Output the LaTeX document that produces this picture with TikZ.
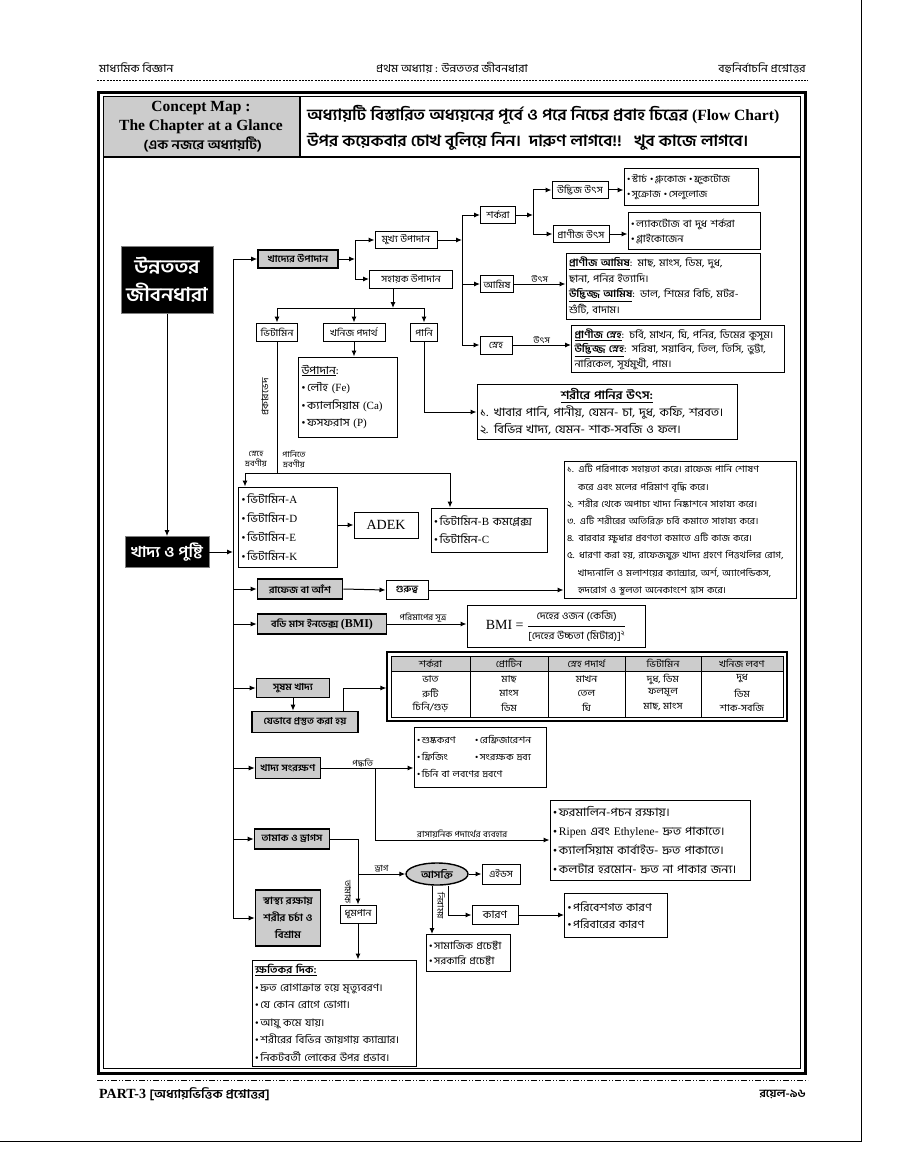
\documentclass[tikz,border=0pt]{standalone}
\usepackage{fontspec}
\setmainfont{Liberation Serif}
\newfontfamily\bn[Script=Bengali, FakeStretch=1.1]{Hind Siliguri}
\usetikzlibrary{arrows.meta,shapes.geometric}
\newcommand\en[1]{{\rmfamily #1}}
\newcommand\bu{{\rmfamily\textbullet}\,}
\newcommand\fs[2]{\fontsize{#1}{#2}\selectfont}
\begin{document}
\begin{tikzpicture}[x=1pt,y=-1pt,
  sz/.style 2 args={minimum width=#1pt, minimum height=#2pt},
  tw/.style={text width=#1pt, align=left},
  bx/.style={draw, line width=1pt, fill=white, inner sep=1pt, font=\bn\fs{9.5}{11}},
  tb/.style={draw, line width=1pt, fill=white, inner sep=3pt, font=\bn\fs{9.5}{14}},
  gb/.style={draw, line width=1.6pt, fill=gray!40, inner sep=1pt, font=\bn\fs{9.5}{11}\bfseries},
  blk/.style={draw=gray, line width=0.8pt, fill=black, text=white, inner sep=1pt},
  ln/.style={line width=1pt},
  arr/.style={line width=1pt, -{Latex[length=6pt,width=5pt]}},
  lbl/.style={font=\bn\fs{8.5}{10}, inner sep=1pt},
]
\useasboundingbox (0,0) rectangle (901,1161);
\fill[white] (0,0) rectangle (901,1161);
\draw[line width=1pt] (861,0) -- (861,1141) -- (0,1141);

% page header
\node[font=\bn\fs{11}{12}, anchor=west, inner sep=0pt] (ph1) at (99,68) {মাধ্যমিক বিজ্ঞান};
\node[font=\bn\fs{11}{12}, inner sep=0pt] (ph2) at (452,68) {প্রথম অধ্যায় : উন্নততর জীবনধারা};
\node[font=\bn\fs{11}{12}, anchor=east, inner sep=0pt] (ph3) at (806,68) {বহুনির্বাচনি প্রশ্নোত্তর};
\draw[line width=0.6pt, dash pattern=on 2pt off 1.2pt] (97,80) -- (808,80);

% frame
\draw[line width=3pt] (98,93) rectangle (805,1073);
\draw[line width=1pt] (103,97) rectangle (800,1068);
\fill[gray!40] (103.5,97.5) rectangle (300,157);
\draw[line width=1.2pt] (103,157) -- (800,157);
\draw[line width=1.2pt] (300,97) -- (300,157);
\node[font=\bfseries\fs{15.5}{19}, align=center, inner sep=0pt] (cm) at (201,127)
  {Concept Map :\\The Chapter at a Glance\\{\bn\fs{13}{17} (এক নজরে অধ্যায়টি)}};
\node[font=\bn\bfseries\fs{15.6}{26}, align=left, anchor=west, inner sep=0pt] (intro) at (307,128)
  {অধ্যায়টি বিস্তারিত অধ্যয়নের পূর্বে ও পরে নিচের প্রবাহ চিত্রের \en{(Flow Chart)}\\
   উপর কয়েকবার চোখ বুলিয়ে নিন।\ \ দারুণ লাগবে!!\ \ \ খুব কাজে লাগবে।};

% footer
\draw[line width=0.6pt, dash pattern=on 6pt off 2pt on 1pt off 2pt on 1pt off 2pt] (97,1080) -- (808,1080);
\node[anchor=west, inner sep=0pt, font=\bfseries\fs{14}{16}] (foot1) at (99,1094)
  {PART-3 {\bn\fs{12}{13}[অধ্যায়ভিত্তিক প্রশ্নোত্তর]}};
\node[anchor=east, inner sep=0pt, font=\bn\bfseries\fs{11}{12}] (foot2) at (806,1094) {রয়েল-৯৬};

% main nodes
\node[blk, sz={92}{67}, font=\bn\fs{19}{28}\bfseries, align=center] (title) at (167,280) {উন্নততর\\জীবনধারা};
\node[blk, sz={84}{31}, font=\bn\fs{15}{16}\bfseries] (khaddo) at (167,552) {খাদ্য ও পুষ্টি};

\node[gb, sz={80}{18}] (upadan) at (298,259) {খাদ্যের উপাদান};
\node[bx, sz={62}{17}] (mukhyo) at (406,240) {মুখ্য উপাদান};
\node[bx, sz={83}{18}] (sohayok) at (411,279) {সহায়ক উপাদান};
\node[bx, sz={41}{18}] (vit) at (277,332) {ভিটামিন};
\node[bx, sz={62}{18}] (khonij) at (354,332) {খনিজ পদার্থ};
\node[bx, sz={27}{18}] (pani) at (424,332) {পানি};

\node[bx, sz={35}{17}] (shorkora) at (498,215) {শর্করা};
\node[bx, sz={33}{17}] (amish) at (497,284) {আমিষ};
\node[bx, sz={32}{18}] (sneho) at (496,345) {স্নেহ};
\node[bx, sz={56}{17}] (udbhij) at (580,190) {উদ্ভিজ উৎস};
\node[bx, sz={56}{17}] (pranij) at (581,234) {প্রাণীজ উৎস};

\node[tb, tw=128, minimum height=37pt, font=\bn\fs{9.5}{15}] (udbox) at (691,187)
  {\bu স্টার্চ \bu গ্লুকোজ \bu ফ্রুকটোজ\\ \bu সুক্রোজ \bu সেলুলোজ};
\node[tb, tw=126, minimum height=37pt, font=\bn\fs{10}{15}] (prbox) at (694,231)
  {\bu ল্যাকটোজ বা দুধ শর্করা\\ \bu গ্লাইকোজেন};
\node[tb, tw=188, minimum height=66pt, font=\bn\fs{10}{15.5}] (amishbox) at (663,286)
  {\underline{\bfseries প্রাণীজ আমিষ}: মাছ, মাংস, ডিম, দুধ,\\ ছানা, পনির ইত্যাদি।\\ \underline{\bfseries উদ্ভিজ্জ আমিষ}: ডাল, শিমের বিচি, মটর-\\ শুঁটি, বাদাম।};
\node[tb, tw=207, minimum height=46pt, font=\bn\fs{10}{14.5}] (snehobox) at (678,349)
  {\underline{\bfseries প্রাণীজ স্নেহ}: চর্বি, মাখন, ঘি, পনির, ডিমের কুসুম।\\ \underline{\bfseries উদ্ভিজ্জ স্নেহ}: সরিষা, সয়াবিন, তিল, তিসি, ভুট্টা,\\ নারিকেল, সূর্যমুখী, পাম।};

\node[tb, tw=93, minimum height=80pt, font=\bn\fs{11}{17.5}] (minbox) at (348,397)
  {\underline{উপাদান}:\\ \bu লৌহ \en{(Fe)}\\ \bu ক্যালসিয়াম \en{(Ca)}\\ \bu ফসফরাস \en{(P)}};
\node[tb, tw=254, minimum height=55pt, font=\bn\fs{11.5}{17}] (panibox) at (607,412)
  {\makebox[\linewidth]{\underline{\bfseries শরীরে পানির উৎস:}}\\ ১. খাবার পানি, পানীয়, যেমন- চা, দুধ, কফি, শরবত।\\ ২. বিভিন্ন খাদ্য, যেমন- শাক-সবজি ও ফল।};

\node[tb, tw=93, minimum height=80pt, font=\bn\fs{11}{19}] (vitA) at (288,527)
  {\bu ভিটামিন-\en{A}\\ \bu ভিটামিন-\en{D}\\ \bu ভিটামিন-\en{E}\\ \bu ভিটামিন-\en{K}};
\node[bx, sz={64}{26}, font=\fs{14}{15}] (adek) at (386,525) {ADEK};
\node[tb, tw=110, minimum height=44pt, font=\bn\fs{11}{18}] (vitB) at (489,530)
  {\bu ভিটামিন-\en{B} কমপ্লেক্স\\ \bu ভিটামিন-\en{C}};

\node[gb, sz={85}{20}] (rafej) at (300,589) {রাফেজ বা আঁশ};
\node[bx, sz={42}{19}, font=\bn\fs{9.5}{11}\bfseries] (gurutto) at (407,590) {গুরুত্ব};
\node[tb, tw=226, minimum height=134pt, font=\bn\fs{9.2}{17.2}] (rbox) at (680,530)
  {১. এটি পরিপাকে সহায়তা করে। রাফেজ পানি শোষণ\\ \hspace*{1.2em}করে এবং মলের পরিমাণ বৃদ্ধি করে।\\ ২. শরীর থেকে অপাচ্য খাদ্য নিষ্কাশনে সাহায্য করে।\\ ৩. এটি শরীরের অতিরিক্ত চর্বি কমাতে সাহায্য করে।\\ ৪. বারবার ক্ষুধার প্রবণতা কমাতে এটি কাজ করে।\\ ৫. ধারণা করা হয়, রাফেজযুক্ত খাদ্য গ্রহণে পিত্তথলির রোগ,\\ \hspace*{1.2em}খাদ্যনালি ও মলাশয়ের ক্যান্সার, অর্শ, অ্যাপেন্ডিকস,\\ \hspace*{1.2em}হৃদরোগ ও স্থূলতা অনেকাংশে হ্রাস করে।};

\node[gb, sz={129}{20}] (bmi) at (322,624) {বডি মাস ইনডেক্স \en{\fs{12}{12}(BMI)}};
\node[bx, sz={178}{42}, font=\fs{14}{15}] (bmibox) at (556,626)
  {BMI = \(\displaystyle\frac{\hbox{\bn\fs{10}{11}দেহের ওজন (কেজি)}}{\hbox{\bn\fs{10}{11}[দেহের উচ্চতা (মিটার)]\textsuperscript{২}}}\)};

% table
\node[draw, line width=1.2pt, sz={400}{69}, inner sep=0pt] (tbl) at (587,686.5) {};
\draw[line width=0.8pt, fill=gray!40] (391,656) rectangle (783,671);
\draw[line width=0.8pt] (391,656) rectangle (783,717);
\foreach \xx in {470,548,625,701} \draw[line width=0.8pt] (\xx,656) -- (\xx,717);
\begin{scope}[every node/.style={font=\bn\fs{9.5}{10}, inner sep=0pt}]
\node (t11) at (430.5,663.5) {শর্করা};
\node (t12) at (509,663.5) {প্রোটিন};
\node (t13) at (586.5,663.5) {স্নেহ পদার্থ};
\node (t14) at (663,663.5) {ভিটামিন};
\node (t15) at (742,663.5) {খনিজ লবণ};
\node (t21) at (430.5,679) {ভাত};
\node (t22) at (509,679) {মাছ};
\node (t23) at (586.5,679) {মাখন};
\node (t24) at (663,679) {দুধ, ডিম};
\node (t25) at (742,679) {দুধ};
\node (t31) at (430.5,693) {রুটি};
\node (t32) at (509,693) {মাংস};
\node (t33) at (586.5,693) {তেল};
\node (t34) at (663,693) {ফলমূল};
\node (t35) at (742,693) {ডিম};
\node (t41) at (430.5,707) {চিনি/গুড়};
\node (t42) at (509,707) {ডিম};
\node (t43) at (586.5,707) {ঘি};
\node (t44) at (663,707) {মাছ, মাংস};
\node (t45) at (742,707) {শাক-সবজি};
\end{scope}

\node[gb, sz={73}{19}] (sushom) at (293,688) {সুষম খাদ্য};
\node[gb, sz={106}{21}] (jevabe) at (305,722) {যেভাবে প্রস্তুত করা হয়};
\node[gb, sz={65}{21}] (songrokkhon) at (288,768) {খাদ্য সংরক্ষণ};
\node[tb, tw=126, minimum height=60pt, font=\bn\fs{9.3}{17}] (prsbox) at (480,757)
  {\makebox[58pt][l]{\bu শুষ্ককরণ}\bu রেফ্রিজারেশন\\ \makebox[58pt][l]{\bu ফ্রিজিং}\bu সংরক্ষক দ্রব্য\\ \bu চিনি বা লবণের দ্রবণে};
\node[tb, tw=194, minimum height=80pt, font=\bn\fs{11.5}{19}] (chembox) at (650,840)
  {\bu ফরমালিন-পচন রক্ষায়।\\ \bu \en{Ripen} এবং \en{Ethylene}- দ্রুত পাকাতে।\\ \bu ক্যালসিয়াম কার্বাইড- দ্রুত পাকাতে।\\ \bu কলটার হরমোন- দ্রুত না পাকার জন্য।};

\node[gb, sz={75}{20}] (tamak) at (292,839) {তামাক ও ড্রাগস};
\node[gb, sz={65}{56}, align=center, font=\bn\fs{10}{17}\bfseries] (shastho) at (288,918) {স্বাস্থ্য রক্ষায়\\শরীর চর্চা ও\\বিশ্রাম};
\node[ellipse, draw, line width=1.4pt, fill=gray!40, minimum width=62pt, minimum height=22pt, inner sep=0pt, font=\bn\fs{10}{11}\bfseries] (ashokti) at (437,874) {আসক্তি};
\node[bx, sz={38}{20}] (aids) at (501,874) {এইডস};
\node[bx, sz={46}{19}, font=\bn\fs{10.5}{11}] (karon) at (495,915) {কারণ};
\node[tb, tw=97, minimum height=44pt, font=\bn\fs{11}{17}] (karonbox) at (616,915)
  {\bu পরিবেশগত কারণ\\ \bu পরিবারের কারণ};
\node[tb, tw=78, minimum height=37pt, font=\bn\fs{10}{15}] (samajik) at (468,953)
  {\bu সামাজিক প্রচেষ্টা\\ \bu সরকারি প্রচেষ্টা};
\node[bx, sz={36}{18}] (dhumpan) at (358,914) {ধূমপান};
\node[tb, tw=158, minimum height=106pt, font=\bn\fs{10.3}{17.6}] (kkbox) at (334,1013)
  {\underline{\bfseries ক্ষতিকর দিক:}\\ \bu দ্রুত রোগাক্রান্ত হয়ে মৃত্যুবরণ।\\ \bu যে কোন রোগে ভোগা।\\ \bu আয়ু কমে যায়।\\ \bu শরীরের বিভিন্ন জায়গায় ক্যান্সার।\\ \bu নিকটবর্তী লোকের উপর প্রভাব।};

% connectors
\coordinate (bt) at (233,259);
\coordinate (bb) at (233,918);
\draw[ln] (bt) -- (bb);
\draw[arr] (title.south) -- (khaddo.north);
\draw[arr] (bt) -- (upadan.west);
\draw[arr] (khaddo.east) -- (bt |- khaddo.east);
\draw[arr] (bt |- rafej) -- (rafej.west);
\draw[arr] (bt |- bmi) -- (bmi.west);
\draw[arr] (bt |- sushom) -- (sushom.west);
\draw[arr] (bt |- songrokkhon) -- (songrokkhon.west);
\draw[arr] (bt |- tamak) -- (tamak.west);
\draw[arr] (bb) -- (shastho.west);

\coordinate (j1) at (355,259);
\draw[arr] (upadan.east) -- (j1);
\draw[ln] (j1 |- mukhyo) -- (j1 |- sohayok);
\draw[arr] (j1 |- mukhyo) -- (mukhyo.west);
\draw[arr] (j1 |- sohayok) -- (sohayok.west);

\coordinate (j2) at (393,308);
\draw[arr] (sohayok.south -| j2) -- (j2);
\draw[ln] (vit.north |- j2) -- (pani.north |- j2);
\draw[arr] (vit.north |- j2) -- (vit.north);
\draw[arr] (khonij.north |- j2) -- (khonij.north);
\draw[arr] (pani.north |- j2) -- (pani.north);

\coordinate (j3) at (462,240);
\draw[arr] (mukhyo.east) -- (j3);
\draw[ln] (j3 |- shorkora) -- (j3 |- sneho);
\draw[arr] (j3 |- shorkora) -- (shorkora.west);
\draw[arr] (j3 |- amish) -- (amish.west);
\draw[arr] (j3 |- sneho) -- (sneho.west);

\coordinate (j4) at (533,215);
\draw[arr] (shorkora.east) -- (j4);
\draw[ln] (j4 |- udbhij) -- (j4 |- pranij);
\draw[arr] (j4 |- udbhij) -- (udbhij.west);
\draw[arr] (j4 |- pranij) -- (pranij.west);
\draw[arr] (udbhij.east) -- (udbhij.east -| udbox.west);
\draw[arr] (pranij.east) -- (pranij.east -| prbox.west);
\draw[arr] (amish.east) -- node[lbl, above]{উৎস} (amish.east -| amishbox.west);
\draw[arr] (sneho.east) -- node[lbl, above]{উৎস} (sneho.east -| snehobox.west);

\draw[arr] (khonij.south) -- (khonij.south |- minbox.north);
\coordinate (pc) at (424,412);
\draw[arr] (pani.south) -- (pc) -- (pc -| panibox.west);

\coordinate (vj) at (277,473);
\coordinate (va) at (245,473);
\coordinate (vb) at (450,473);
\draw[ln] (vit.south) -- (vj);
\draw[ln] (va) -- (vb);
\draw[arr] (va) -- (va |- vitA.north);
\draw[arr] (vb) -- (vb |- vitB.north);
\node[lbl, rotate=90, font=\bn\fs{9.5}{10}] (prkl) at (265,397) {প্রকারভেদ};
\node[lbl, align=center, font=\bn\fs{8}{10}] (snl) at (256,459) {স্নেহে\\দ্রবণীয়};
\node[lbl, align=center, font=\bn\fs{8}{10}] (pnl) at (294,459) {পানিতে\\দ্রবণীয়};

\draw[arr] (vitA.east |- adek) -- (adek.west);
\draw[arr] (rafej.east) -- (gurutto.west);
\draw[arr] (gurutto.east) -- (gurutto.east -| rbox.west);
\draw[arr] (bmi.east) -- node[lbl, above, pos=0.45]{পরিমাপের সূত্র} (bmi.east -| bmibox.west);

\draw[arr] (sushom.south) -- (sushom.south |- jevabe.north);
\coordinate (jt) at (343,688);
\draw[arr] (jevabe.north -| jt) -- (jt) -- (jt -| tbl.west);

\coordinate (sc) at (375,768);
\draw[arr] (songrokkhon.east) -- node[lbl, above, pos=0.45]{পদ্ধতি} (songrokkhon.east -| prsbox.west);
\draw[arr] (sc) -- (sc |- chembox.west) -- node[lbl, above]{রাসায়নিক পদার্থের ব্যবহার} (chembox.west);

\coordinate (tj) at (358,839);
\coordinate (tk) at (358,874);
\draw[ln] (tamak.east) -- (tj) -- (tk);
\draw[arr] (tk) -- (dhumpan.north);
\draw[arr] (tk) -- node[lbl, above]{ড্রাগ} (ashokti.west);
\node[lbl, rotate=-90] (tml) at (348,892) {তামাক};
\draw[arr] (dhumpan.south) -- (dhumpan.south |- kkbox.north);

\draw[arr] (ashokti.east) -- (aids.west);
\coordinate (ak) at (448,915);
\draw[arr] (ashokti.south -| ak) -- (ak) -- (karon.west);
\draw[arr] (karon.east) -- (karon.east -| karonbox.west);
\coordinate (an) at (432,934);
\draw[arr] (ashokti.south -| an) -- (an |- samajik.north);
\node[lbl, rotate=-90] (nrl) at (441,906) {নিরাময়};
\end{tikzpicture}
\end{document}
